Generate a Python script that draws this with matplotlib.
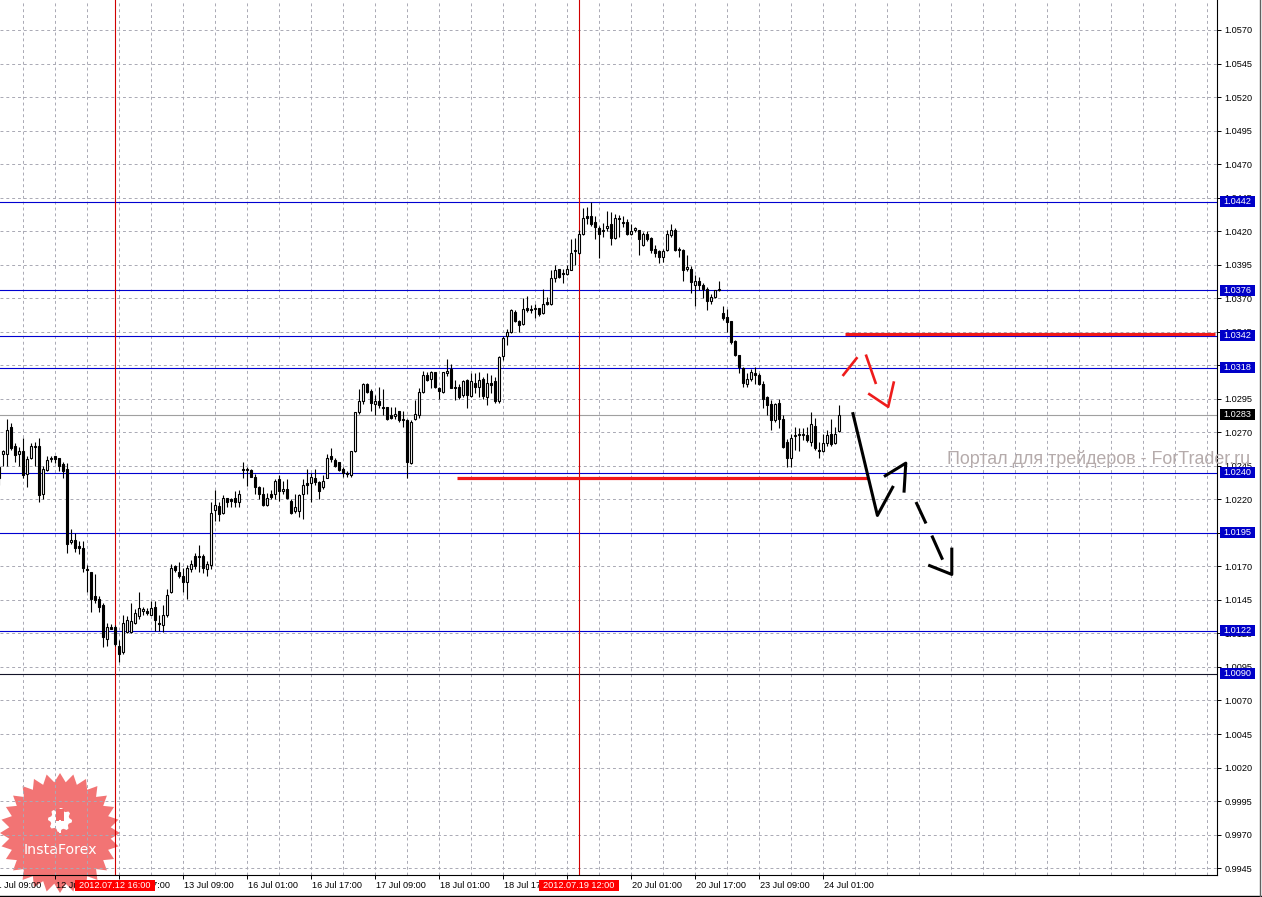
"""
EUR/CHF-style H1 candlestick chart (MetaTrader look) with support/resistance
levels and hand-drawn forecast arrows.
"""

import numpy as np
import matplotlib.pyplot as plt
from matplotlib.patches import Rectangle, Polygon
from matplotlib.lines import Line2D

plt.rcParams['font.family'] = ['Liberation Sans', 'DejaVu Sans']

# ----------------------------------------------------------
# Data (hourly bars, first bar index = -1)
# ----------------------------------------------------------

first_bar = -1

opens = [1.0244,
         1.0254, 1.0254, 1.0274, 1.0260, 1.0254, 1.0256, 1.0239, 1.0251, 1.0259, 1.0260,
         1.0224, 1.0242, 1.0250, 1.0252, 1.0251, 1.0246, 1.0243, 1.0188, 1.0190, 1.0185,
         1.0184, 1.0168, 1.0166, 1.0148, 1.0146, 1.0141, 1.0116, 1.0125, 1.0125, 1.0111,
         1.0106, 1.0121, 1.0121, 1.0128, 1.0133, 1.0137, 1.0137, 1.0134, 1.0140, 1.0128,
         1.0126, 1.0134, 1.0151, 1.0170, 1.0166, 1.0163, 1.0158, 1.0168, 1.0178, 1.0178,
         1.0178, 1.0168, 1.0171, 1.0212, 1.0215, 1.0210, 1.0221, 1.0220, 1.0221, 1.0218,
         1.0243, 1.0242, 1.0242, 1.0237, 1.0229, 1.0224, 1.0216, 1.0224, 1.0224, 1.0235,
         1.0226, 1.0228, 1.0219, 1.0211, 1.0211, 1.0224, 1.0232, 1.0232, 1.0236, 1.0233,
         1.0229, 1.0236, 1.0252, 1.0249, 1.0248, 1.0243, 1.0240, 1.0238, 1.0256, 1.0285,
         1.0293, 1.0306, 1.0301, 1.0291, 1.0293, 1.0289, 1.0289, 1.0283, 1.0282, 1.0286,
         1.0280, 1.0279, 1.0247, 1.0280, 1.0283, 1.0300, 1.0313, 1.0310, 1.0315, 1.0303,
         1.0300, 1.0314, 1.0317, 1.0304, 1.0304, 1.0298, 1.0309, 1.0297, 1.0307, 1.0304,
         1.0310, 1.0296, 1.0307, 1.0308, 1.0293, 1.0327, 1.0342, 1.0345, 1.0360, 1.0353,
         1.0351, 1.0363, 1.0362, 1.0362, 1.0363, 1.0359, 1.0367, 1.0366, 1.0385, 1.0392,
         1.0389, 1.0388, 1.0391, 1.0406, 1.0404, 1.0418, 1.0431, 1.0431, 1.0427, 1.0422,
         1.0420, 1.0422, 1.0425, 1.0415, 1.0430, 1.0427, 1.0427, 1.0418, 1.0421, 1.0421,
         1.0410, 1.0418, 1.0415, 1.0407, 1.0405, 1.0401, 1.0406, 1.0417, 1.0421, 1.0406,
         1.0406, 1.0392, 1.0392, 1.0380, 1.0383, 1.0380, 1.0377, 1.0368, 1.0371, 1.0376,
         1.0359, 1.0356, 1.0353, 1.0338, 1.0328, 1.0318, 1.0306, 1.0310, 1.0314, 1.0313,
         1.0306, 1.0296, 1.0291, 1.0279, 1.0292, 1.0280, 1.0263, 1.0251, 1.0267, 1.0268,
         1.0268, 1.0268, 1.0263, 1.0275, 1.0257, 1.0256, 1.0262, 1.0269, 1.0262, 1.0271]

highs = [1.0246,
         1.0257, 1.0280, 1.0277, 1.0262, 1.0259, 1.0266, 1.0252, 1.0262, 1.0263, 1.0266,
         1.0245, 1.0252, 1.0252, 1.0252, 1.0251, 1.0248, 1.0247, 1.0198, 1.0195, 1.0189,
         1.0189, 1.0171, 1.0166, 1.0164, 1.0148, 1.0143, 1.0128, 1.0127, 1.0126, 1.0115,
         1.0134, 1.0133, 1.0143, 1.0138, 1.0151, 1.0140, 1.0139, 1.0144, 1.0144, 1.0134,
         1.0141, 1.0153, 1.0172, 1.0171, 1.0173, 1.0169, 1.0171, 1.0175, 1.0180, 1.0186,
         1.0179, 1.0174, 1.0218, 1.0227, 1.0218, 1.0223, 1.0221, 1.0221, 1.0226, 1.0227,
         1.0248, 1.0244, 1.0243, 1.0239, 1.0230, 1.0229, 1.0225, 1.0227, 1.0235, 1.0238,
         1.0234, 1.0235, 1.0220, 1.0224, 1.0224, 1.0235, 1.0243, 1.0240, 1.0243, 1.0234,
         1.0238, 1.0254, 1.0258, 1.0251, 1.0248, 1.0244, 1.0241, 1.0256, 1.0285, 1.0302,
         1.0307, 1.0307, 1.0302, 1.0298, 1.0304, 1.0302, 1.0289, 1.0289, 1.0289, 1.0286,
         1.0286, 1.0280, 1.0279, 1.0294, 1.0303, 1.0316, 1.0315, 1.0316, 1.0315, 1.0304,
         1.0315, 1.0325, 1.0321, 1.0309, 1.0306, 1.0309, 1.0310, 1.0314, 1.0314, 1.0315,
         1.0311, 1.0314, 1.0313, 1.0311, 1.0327, 1.0342, 1.0347, 1.0362, 1.0361, 1.0354,
         1.0370, 1.0372, 1.0365, 1.0366, 1.0363, 1.0377, 1.0371, 1.0391, 1.0395, 1.0392,
         1.0392, 1.0395, 1.0414, 1.0415, 1.0421, 1.0437, 1.0438, 1.0442, 1.0431, 1.0424,
         1.0426, 1.0435, 1.0434, 1.0433, 1.0432, 1.0431, 1.0429, 1.0425, 1.0423, 1.0421,
         1.0419, 1.0420, 1.0416, 1.0410, 1.0406, 1.0407, 1.0421, 1.0425, 1.0422, 1.0408,
         1.0407, 1.0402, 1.0394, 1.0387, 1.0386, 1.0381, 1.0378, 1.0373, 1.0376, 1.0383,
         1.0364, 1.0362, 1.0353, 1.0339, 1.0328, 1.0319, 1.0314, 1.0317, 1.0319, 1.0314,
         1.0308, 1.0297, 1.0294, 1.0292, 1.0295, 1.0283, 1.0265, 1.0269, 1.0274, 1.0273,
         1.0273, 1.0274, 1.0285, 1.0281, 1.0263, 1.0269, 1.0272, 1.0280, 1.0274, 1.0290]

lows = [1.0231,
        1.0245, 1.0245, 1.0257, 1.0248, 1.0245, 1.0236, 1.0229, 1.0250, 1.0245, 1.0218,
        1.0220, 1.0241, 1.0248, 1.0247, 1.0241, 1.0236, 1.0180, 1.0187, 1.0181, 1.0179,
        1.0166, 1.0151, 1.0136, 1.0143, 1.0136, 1.0110, 1.0111, 1.0123, 1.0111, 1.0099,
        1.0105, 1.0120, 1.0120, 1.0127, 1.0131, 1.0134, 1.0134, 1.0134, 1.0122, 1.0122,
        1.0121, 1.0132, 1.0150, 1.0166, 1.0161, 1.0151, 1.0146, 1.0166, 1.0168, 1.0166,
        1.0165, 1.0163, 1.0168, 1.0204, 1.0204, 1.0209, 1.0214, 1.0214, 1.0214, 1.0214,
        1.0236, 1.0230, 1.0237, 1.0224, 1.0220, 1.0215, 1.0215, 1.0220, 1.0220, 1.0219,
        1.0224, 1.0220, 1.0209, 1.0210, 1.0207, 1.0205, 1.0224, 1.0218, 1.0231, 1.0220,
        1.0228, 1.0236, 1.0248, 1.0244, 1.0241, 1.0237, 1.0237, 1.0237, 1.0255, 1.0284,
        1.0291, 1.0299, 1.0286, 1.0283, 1.0288, 1.0283, 1.0279, 1.0280, 1.0280, 1.0278,
        1.0274, 1.0236, 1.0246, 1.0279, 1.0281, 1.0299, 1.0308, 1.0303, 1.0303, 1.0295,
        1.0299, 1.0312, 1.0303, 1.0294, 1.0295, 1.0296, 1.0288, 1.0296, 1.0299, 1.0296,
        1.0295, 1.0290, 1.0299, 1.0292, 1.0292, 1.0324, 1.0335, 1.0344, 1.0352, 1.0345,
        1.0350, 1.0360, 1.0359, 1.0355, 1.0357, 1.0358, 1.0365, 1.0365, 1.0382, 1.0385,
        1.0381, 1.0387, 1.0391, 1.0395, 1.0403, 1.0417, 1.0425, 1.0424, 1.0414, 1.0400,
        1.0416, 1.0420, 1.0410, 1.0414, 1.0416, 1.0423, 1.0417, 1.0417, 1.0419, 1.0402,
        1.0409, 1.0413, 1.0404, 1.0401, 1.0396, 1.0397, 1.0405, 1.0416, 1.0405, 1.0401,
        1.0383, 1.0390, 1.0374, 1.0364, 1.0376, 1.0370, 1.0361, 1.0366, 1.0370, 1.0375,
        1.0354, 1.0345, 1.0336, 1.0327, 1.0314, 1.0304, 1.0304, 1.0308, 1.0306, 1.0305,
        1.0288, 1.0283, 1.0272, 1.0278, 1.0273, 1.0258, 1.0244, 1.0244, 1.0257, 1.0256,
        1.0264, 1.0263, 1.0260, 1.0257, 1.0251, 1.0255, 1.0260, 1.0260, 1.0261, 1.0270]

closes = [1.0236,
          1.0256, 1.0272, 1.0258, 1.0253, 1.0256, 1.0238, 1.0250, 1.0260, 1.0260, 1.0223,
          1.0243, 1.0249, 1.0251, 1.0250, 1.0245, 1.0241, 1.0187, 1.0190, 1.0184, 1.0184,
          1.0169, 1.0167, 1.0146, 1.0145, 1.0140, 1.0117, 1.0125, 1.0123, 1.0112, 1.0105,
          1.0128, 1.0130, 1.0129, 1.0135, 1.0139, 1.0138, 1.0135, 1.0139, 1.0130, 1.0127,
          1.0134, 1.0149, 1.0169, 1.0167, 1.0163, 1.0158, 1.0169, 1.0172, 1.0170, 1.0177,
          1.0169, 1.0172, 1.0210, 1.0216, 1.0209, 1.0221, 1.0218, 1.0219, 1.0218, 1.0224,
          1.0242, 1.0243, 1.0237, 1.0229, 1.0224, 1.0216, 1.0221, 1.0222, 1.0234, 1.0226,
          1.0228, 1.0221, 1.0210, 1.0214, 1.0223, 1.0231, 1.0231, 1.0237, 1.0233, 1.0226,
          1.0234, 1.0251, 1.0250, 1.0245, 1.0242, 1.0240, 1.0239, 1.0256, 1.0285, 1.0293,
          1.0306, 1.0300, 1.0292, 1.0293, 1.0290, 1.0288, 1.0280, 1.0281, 1.0284, 1.0279,
          1.0279, 1.0248, 1.0278, 1.0284, 1.0300, 1.0313, 1.0309, 1.0315, 1.0304, 1.0301,
          1.0315, 1.0316, 1.0303, 1.0303, 1.0296, 1.0308, 1.0298, 1.0308, 1.0304, 1.0309,
          1.0297, 1.0307, 1.0305, 1.0293, 1.0326, 1.0340, 1.0345, 1.0361, 1.0353, 1.0350,
          1.0362, 1.0361, 1.0361, 1.0363, 1.0358, 1.0366, 1.0366, 1.0385, 1.0391, 1.0386,
          1.0388, 1.0392, 1.0404, 1.0405, 1.0418, 1.0430, 1.0430, 1.0425, 1.0423, 1.0418,
          1.0421, 1.0424, 1.0415, 1.0430, 1.0429, 1.0426, 1.0418, 1.0420, 1.0422, 1.0414,
          1.0418, 1.0414, 1.0406, 1.0404, 1.0401, 1.0405, 1.0418, 1.0421, 1.0406, 1.0407,
          1.0391, 1.0393, 1.0382, 1.0383, 1.0380, 1.0377, 1.0368, 1.0371, 1.0376, 1.0377,
          1.0355, 1.0352, 1.0337, 1.0328, 1.0319, 1.0307, 1.0310, 1.0315, 1.0313, 1.0306,
          1.0295, 1.0290, 1.0279, 1.0291, 1.0280, 1.0259, 1.0251, 1.0266, 1.0268, 1.0269,
          1.0269, 1.0264, 1.0276, 1.0258, 1.0256, 1.0262, 1.0268, 1.0261, 1.0269, 1.0283]

# Time axis
time_tick_bars = [-3, 13, 29, 45, 61, 77, 93, 109, 125, 141, 157, 173, 189, 205]
time_tick_labels = ["11 Jul 09:00", "12 Jul 01:00", "12 Jul 17:00", "13 Jul 09:00",
                    "16 Jul 01:00", "16 Jul 17:00", "17 Jul 09:00", "18 Jul 01:00",
                    "18 Jul 17:00", "19 Jul 09:00", "20 Jul 01:00", "20 Jul 17:00",
                    "23 Jul 09:00", "24 Jul 01:00"]

# Vertical marker lines (bar, label)
vline_bars = [28, 144]
vline_labels = ["2012.07.12 16:00", "2012.07.19 12:00"]

# Price axis
price_ticks = [1.0570, 1.0545, 1.0520, 1.0495, 1.0470, 1.0445, 1.0420, 1.0395,
               1.0370, 1.0345, 1.0320, 1.0295, 1.0270, 1.0245, 1.0220, 1.0195,
               1.0170, 1.0145, 1.0120, 1.0095, 1.0070, 1.0045, 1.0020, 0.9995,
               0.9970, 0.9945]

blue_levels = [1.0442, 1.0376, 1.0342, 1.0318, 1.0240, 1.0195, 1.0122]
dark_level = 1.0090
bid_price = 1.0283

# Red horizontal zones: (start bar, end bar, price)
red_levels = [(210.5, 303.0, 1.0343), (113.5, 216.25, 1.0236)]

# Hand-drawn forecast arrows: lists of (bar, price) polylines
red_arrows = [
    [(209.9, 1.0312), (213.6, 1.0326)],
    [(215.7, 1.0328), (218.25, 1.0306)],
    [(216.3, 1.0299), (221.3, 1.0289), (222.75, 1.0308)],
]
black_arrows = [
    [(212.4, 1.0285), (218.6, 1.0208), (222.6, 1.0230)],
    [(220.25, 1.0237), (225.7, 1.0247), (225.25, 1.0225)],
    [(228.25, 1.0218), (230.75, 1.0202)],
    [(232.2, 1.0193), (234.9, 1.0175)],
    [(231.3, 1.0171), (237.2, 1.0164), (237.2, 1.0184)],
]

# ----------------------------------------------------------
# Figure / axes layout (pixel based, 1262 x 897)
# ----------------------------------------------------------

W, H = 1262, 897
PLOT_R, PLOT_B = 1217, 875
XLIM = (-0.75, 303.5)
YLIM = (0.993987, 1.059237)
FS = 6.6

fig = plt.figure(figsize=(W / 100, H / 100), dpi=100)
fig.patch.set_facecolor('white')
ax = fig.add_axes([0, (H - PLOT_B) / H, PLOT_R / W, PLOT_B / H])
ax.set_facecolor('none')

for side in ['left', 'top']:
    ax.spines[side].set_visible(False)
for side in ['right', 'bottom']:
    ax.spines[side].set_color('black')
    ax.spines[side].set_linewidth(0.8)

# Ticks and grid
ax.set_yticks(price_ticks)
ax.set_yticklabels([f"{p:.4f}" for p in price_ticks])
ax.yaxis.tick_right()
ax.tick_params(axis='y', direction='out', length=3, width=0.7, pad=2.5,
               labelsize=FS, colors='black')

ax.set_xticks(time_tick_bars)
ax.set_xticks(list(range(-3, 304, 8)), minor=True)
ax.tick_params(axis='x', which='major', direction='out', length=3, width=0.7,
               labelbottom=False)
ax.tick_params(axis='x', which='minor', length=0, labelbottom=False)

ax.grid(True, which='both', color='#a9a9b4', linestyle=(0, (3, 3)), linewidth=0.7)
ax.set_axisbelow(True)

# limits last: set_xticks would otherwise widen the view
ax.set_xlim(*XLIM)
ax.set_ylim(*YLIM)

xtr = ax.get_xaxis_transform()
for b, txt in zip(time_tick_bars, time_tick_labels):
    ax.text(b + 0.25, -10 / PLOT_B, txt, transform=xtr, ha='left', va='center',
            fontsize=FS, color='black', clip_on=False, zorder=9)

# ----------------------------------------------------------
# Levels
# ----------------------------------------------------------

ax.axhline(bid_price, color='#a0a0a0', lw=0.8, zorder=1.2)
for lv in blue_levels:
    ax.axhline(lv, color='#0000d0', lw=0.8, zorder=1.3)
ax.axhline(dark_level, color='#141428', lw=0.8, zorder=1.3)

for b in vline_bars:
    ax.axvline(b, color='#d00000', lw=0.8, zorder=1.3)

for x0, x1, p in red_levels:
    ax.plot([x0, x1], [p, p], color='#f01818', lw=2.3, zorder=4,
            solid_capstyle='butt')

# ----------------------------------------------------------
# Candles
# ----------------------------------------------------------

bars = np.arange(len(opens)) + first_bar
o = np.array(opens)
h = np.array(highs)
l = np.array(lows)
c = np.array(closes)

ax.vlines(bars, l, h, color='black', lw=0.8, zorder=2)
bull = c >= o
ax.bar(bars[bull], (c - o)[bull], bottom=o[bull], width=0.5,
       facecolor='white', edgecolor='black', linewidth=0.8, zorder=3)
ax.bar(bars[~bull], (o - c)[~bull], bottom=c[~bull], width=0.5,
       facecolor='black', edgecolor='black', linewidth=0.8, zorder=3)

# ----------------------------------------------------------
# Forecast arrows
# ----------------------------------------------------------

for seg in red_arrows:
    xs, ys = zip(*seg)
    ax.plot(xs, ys, color='#ee1c1c', lw=1.9, zorder=5, solid_capstyle='butt')
for seg in black_arrows:
    xs, ys = zip(*seg)
    ax.plot(xs, ys, color='black', lw=2.2, zorder=5, solid_capstyle='butt')

ax.set_xlim(*XLIM)
ax.set_ylim(*YLIM)

# ----------------------------------------------------------
# Price scale labels (boxes)
# ----------------------------------------------------------

ppx = (YLIM[1] - YLIM[0]) / PLOT_B  # price per pixel
ytr = ax.get_yaxis_transform()


def price_box(price, face):
    ax.add_patch(Rectangle((1220 / PLOT_R, price - 5.5 * ppx), 35 / PLOT_R, 11 * ppx,
                           transform=ytr, facecolor=face, edgecolor='none',
                           clip_on=False, zorder=10))
    ax.text(1223 / PLOT_R, price, f"{price:.4f}", transform=ytr, ha='left',
            va='center', color='white', fontsize=FS, clip_on=False, zorder=11)


for lv in blue_levels + [dark_level]:
    price_box(lv, '#0000c8')
price_box(bid_price, 'black')

# Time scale red labels
for b, txt in zip(vline_bars, vline_labels):
    ax.add_patch(Rectangle((b - 10, -15.7 / PLOT_B), 20, 10.5 / PLOT_B,
                           transform=xtr, facecolor='#ff0000', edgecolor='none',
                           clip_on=False, zorder=10))
    ax.text(b, -10.3 / PLOT_B, txt, transform=xtr, ha='center', va='center',
            color='white', fontsize=FS, clip_on=False, zorder=11)

# ----------------------------------------------------------
# Watermark and logo
# ----------------------------------------------------------

fig.text(947 / W, 1 - 464 / H, "Портал для трейдеров - ForTrader.ru",
         fontsize=12.9, color='#b5abab', va='baseline', ha='left', zorder=1)

cx, cy, r_out, r_in, teeth = 60, 833, 60, 51, 28
ang = np.linspace(0, 2 * np.pi, 2 * teeth, endpoint=False)
rad = np.where(np.arange(2 * teeth) % 2 == 0, r_out, r_in)
star = np.column_stack([(cx + rad * np.sin(ang)) / W, 1 - (cy - rad * np.cos(ang)) / H])
fig.patches.append(Polygon(star, closed=True, transform=fig.transFigure,
                           facecolor='#f05c5c', edgecolor='none', alpha=0.85,
                           zorder=-1))

gx, gy = 60, 820
gang = np.linspace(0, 2 * np.pi, 32, endpoint=False)
grad = np.where((np.arange(32) // 2) % 2 == 0, 12, 9.5)
gear = np.column_stack([(gx + grad * np.sin(gang)) / W, 1 - (gy - grad * np.cos(gang)) / H])
fig.patches.append(Polygon(gear, closed=True, transform=fig.transFigure,
                           facecolor='white', edgecolor='none', zorder=-0.5))
fig.patches.append(Rectangle(((gx - 4) / W, 1 - (gy + 1) / H), 8 / W, 12 / H,
                             transform=fig.transFigure, facecolor='#f06a6a',
                             edgecolor='none', zorder=-0.4))
fig.patches.append(Rectangle(((gx - 1.3) / W, 1 - (gy + 13) / H), 2.6 / W, 13 / H,
                             transform=fig.transFigure, facecolor='white',
                             edgecolor='none', zorder=-0.3))
fig.text(gx / W, 1 - 850 / H, "InstaForex", color='white', fontsize=10.2,
         family='DejaVu Sans', ha='center', va='center', zorder=-0.2)

# Window frame lines
fig.add_artist(Line2D([0, 1], [0.6 / H, 0.6 / H], transform=fig.transFigure,
                      color='black', lw=1.0))
fig.add_artist(Line2D([1260 / W, 1260 / W], [0, 1], transform=fig.transFigure,
                      color='#606060', lw=1.0))

fig.savefig("out.png", dpi=100)
